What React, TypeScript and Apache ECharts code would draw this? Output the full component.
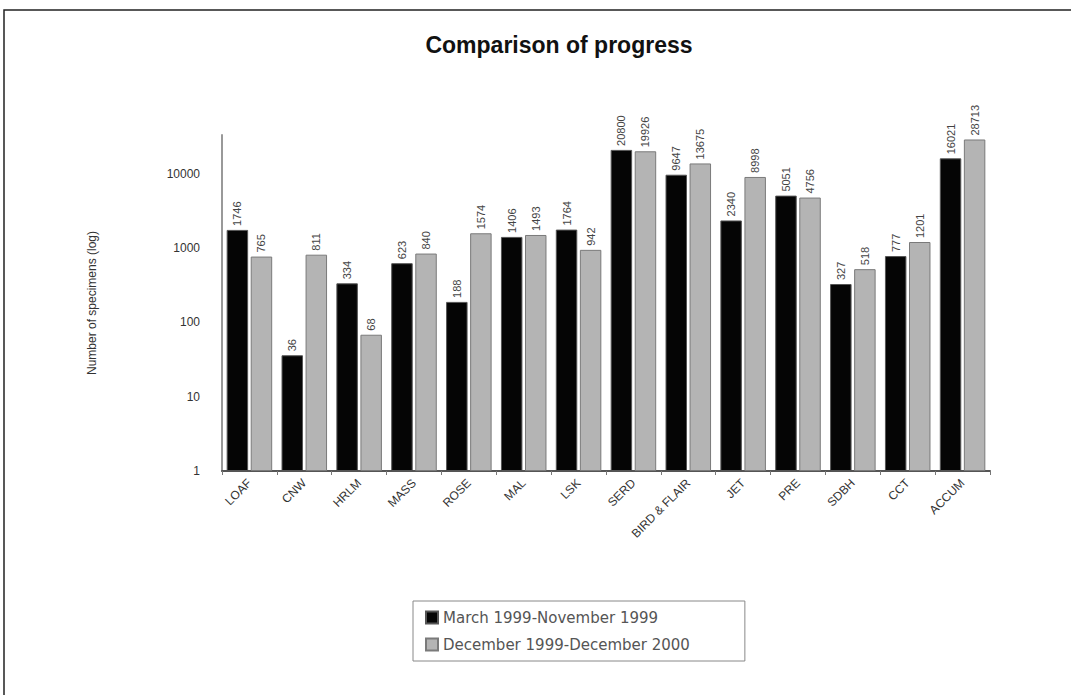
import React, { useEffect, useRef } from "react";
import * as echarts from "echarts";

const categories = ["LOAF", "CNW", "HRLM", "MASS", "ROSE", "MAL", "LSK", "SERD", "BIRD & FLAIR", "JET", "PRE", "SDBH", "CCT", "ACCUM"];
const period1 = [1746, 36, 334, 623, 188, 1406, 1764, 20800, 9647, 2340, 5051, 327, 777, 16021];
const period2 = [765, 811, 68, 840, 1574, 1493, 942, 19926, 13675, 8998, 4756, 518, 1201, 28713];
const seriesNames = ["March 1999-November 1999", "December 1999-December 2000"];
const yTicks = [1, 10, 100, 1000, 10000];

export default function App() {
  const ref = useRef<HTMLDivElement>(null);
  useEffect(() => {
    if (!ref.current) return;
    const chart = echarts.init(ref.current, null, { renderer: "svg" });
    const labelStyle = {
      show: true,
      position: "top" as const,
      rotate: 90,
      align: "left" as const,
      verticalAlign: "middle" as const,
      distance: 2,
      fontSize: 11,
      fontFamily: "Liberation Sans Narrow, Liberation Sans, Arial, sans-serif",
      color: "#444",
      backgroundColor: "#fff",
      padding: [2, 2],
    };
    chart.setOption({
      animation: false,
      backgroundColor: "#fff",
      textStyle: { fontFamily: "Liberation Sans, Arial, sans-serif" },
      title: {
        text: "Comparison of progress",
        left: 554,
        textAlign: "center",
        top: 28,
        textStyle: { fontSize: 23, fontWeight: "bold", color: "#111", fontFamily: "Liberation Sans, Arial, sans-serif" },
      },
      legend: {
        orient: "vertical",
        left: 413,
        top: 601,
        padding: [9, 55, 9, 12],
        borderColor: "#888",
        borderWidth: 1,
        itemWidth: 12,
        itemHeight: 12,
        itemGap: 12,
        icon: "rect",
        textStyle: { fontSize: 15, color: "#555", fontFamily: "DejaVu Sans, sans-serif" },
        data: seriesNames,
      },
      grid: { left: 222, right: 81, top: 135, bottom: 224, containLabel: false },
      xAxis: {
        type: "category",
        data: categories,
        axisLine: { lineStyle: { color: "#555", width: 2 } },
        axisTick: { show: true, length: 4, lineStyle: { color: "#777" } },
        axisLabel: { rotate: 45, fontSize: 12, color: "#333", margin: 10, interval: 0 },
      },
      yAxis: {
        type: "log",
        logBase: 10,
        min: 1,
        max: 33000,
        name: "Number of specimens (log)",
        nameLocation: "middle",
        nameGap: 124,
        nameTextStyle: { fontSize: 12, color: "#333" },
        axisLine: { show: true, lineStyle: { color: "#999", width: 2 } },
        axisTick: { show: false },
        splitLine: { show: false },
        axisLabel: {
          fontSize: 12,
          color: "#333",
          margin: 22,
          showMaxLabel: false,
          formatter: (v: number) => (yTicks.includes(Math.round(v)) ? String(Math.round(v)) : ""),
        },
      },
      series: [
        {
          name: seriesNames[0],
          type: "bar",
          data: period1,
          barGap: "12%",
          barCategoryGap: "17%",
          itemStyle: { color: "#050505", borderColor: "#555", borderWidth: 1 },
          label: labelStyle,
        },
        {
          name: seriesNames[1],
          type: "bar",
          data: period2,
          itemStyle: { color: "#b4b4b4", borderColor: "#7a7a7a", borderWidth: 1 },
          label: labelStyle,
        },
      ],
      graphic: [
        {
          type: "rect",
          shape: { x: 4, y: 10, width: 1080, height: 700 },
          style: { fill: "none", stroke: "#222", lineWidth: 1.5 },
          silent: true,
        },
      ],
    });
    return () => chart.dispose();
  }, []);
  return <div ref={ref} style={{ position: "fixed", left: 0, top: 0, width: 1071, height: 695 }} />;
}
